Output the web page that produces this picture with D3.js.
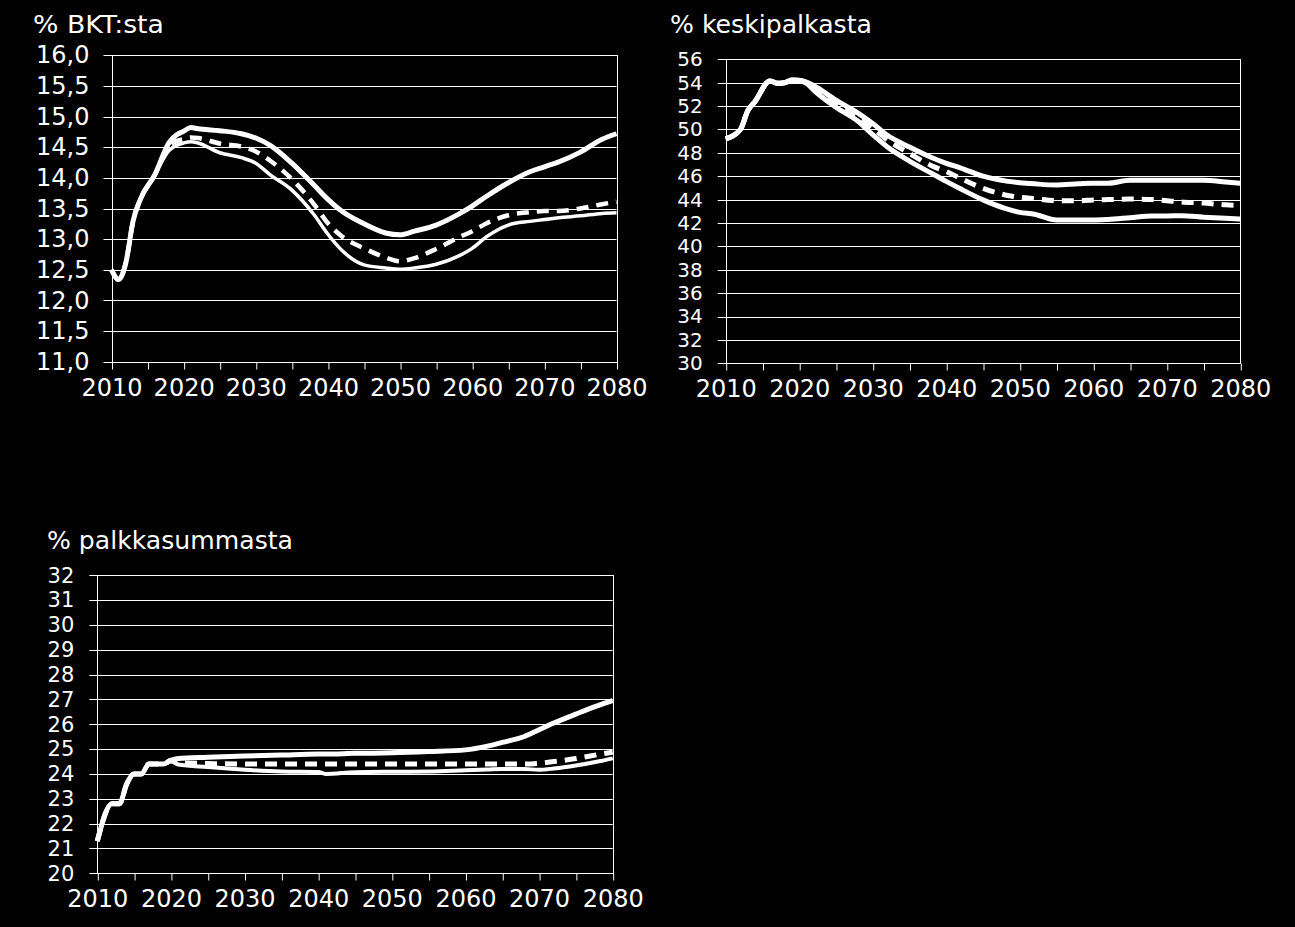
<!DOCTYPE html>
<html><head><meta charset="utf-8">
<script src="https://cdn.jsdelivr.net/npm/d3@7"></script>
<style>
body{margin:0;background:#000}
svg{display:block;background:#000}
text{font-family:"DejaVu Sans",sans-serif;fill:#fff}
</style></head>
<body><svg id="c" width="1295" height="927"></svg>
<script>
// ---------- DATA ----------
const xTicks = [2010,2015,2020,2025,2030,2035,2040,2045,2050,2055,2060,2065,2070,2075,2080];
const xLabels = [2010,2020,2030,2040,2050,2060,2070,2080];

// Panel 1: % BKT:sta
const bktTitle = "% BKT:sta";
const bktYTicks = [11,11.5,12,12.5,13,13.5,14,14.5,15,15.5,16];
const bktYears = [2010,2011,2012,2013,2014,2016,2018,2019,2020,2021,2022,2025,2028,2030,2032,2035,2038,2040,2042,2045,2048,2050,2052,2055,2058,2060,2062,2065,2068,2070,2072,2075,2078,2080];
const bktUpper = [12.50,12.34,12.62,13.30,13.65,14.05,14.58,14.70,14.76,14.82,14.80,14.77,14.72,14.65,14.53,14.24,13.89,13.65,13.45,13.25,13.10,13.07,13.13,13.23,13.40,13.54,13.70,13.92,14.10,14.18,14.26,14.42,14.63,14.72];
const bktBase  = [12.50,12.34,12.62,13.30,13.65,14.05,14.52,14.60,14.63,14.66,14.65,14.56,14.51,14.43,14.28,13.98,13.58,13.26,13.04,12.85,12.70,12.64,12.69,12.84,13.02,13.13,13.26,13.39,13.44,13.46,13.46,13.50,13.57,13.61];
const bktLower = [12.50,12.34,12.62,13.30,13.65,14.05,14.45,14.53,14.57,14.59,14.57,14.41,14.33,14.24,14.05,13.80,13.41,13.08,12.81,12.58,12.53,12.51,12.53,12.59,12.72,12.85,13.04,13.23,13.29,13.32,13.35,13.38,13.42,13.43];

// Panel 2: % keskipalkasta
const kpTitle = "% keskipalkasta";
const kpYTicks = [30,32,34,36,38,40,42,44,46,48,50,52,54,56];
const kpYears = [2010,2012,2013,2014,2016,2017,2018,2019,2020,2021,2022,2025,2028,2030,2032,2035,2038,2040,2042,2045,2048,2050,2052,2055,2058,2060,2062,2065,2068,2070,2072,2075,2078,2080];
const kpUpper = [49.2,50.0,51.6,52.4,54.15,53.95,54.0,54.25,54.2,54.05,53.75,52.5,51.4,50.5,49.5,48.5,47.6,47.1,46.7,46.0,45.6,45.45,45.35,45.25,45.35,45.4,45.4,45.65,45.65,45.65,45.65,45.65,45.5,45.4];
const kpBase  = [49.2,50.0,51.6,52.4,54.15,53.95,54.0,54.2,54.2,54.0,53.55,52.2,50.9,50.1,49.1,47.95,46.9,46.4,45.8,44.96,44.4,44.2,44.08,43.92,43.9,43.97,44.0,44.05,44.0,43.9,43.8,43.7,43.55,43.5];
const kpLower = [49.2,50.0,51.6,52.4,54.15,53.95,54.0,54.15,54.15,53.95,53.35,51.9,50.7,49.55,48.5,47.3,46.25,45.56,44.9,43.98,43.25,42.91,42.75,42.25,42.25,42.25,42.3,42.45,42.6,42.6,42.62,42.5,42.4,42.34];

// Panel 3: % palkkasummasta
const psTitle = "% palkkasummasta";
const psYTicks = [20,21,22,23,24,25,26,27,28,29,30,31,32];
const psYears = [2010,2012,2013,2014,2015,2016,2017,2019,2020,2021,2025,2030,2035,2040,2041,2045,2050,2055,2060,2063,2065,2068,2070,2072,2075,2078,2080];
const psUpper = [21.3,22.8,22.8,23.6,24.0,24.0,24.4,24.4,24.55,24.62,24.67,24.72,24.76,24.8,24.8,24.83,24.85,24.9,24.97,25.12,25.27,25.51,25.78,26.05,26.41,26.75,26.95];
const psBase  = [21.3,22.8,22.8,23.6,24.0,24.0,24.4,24.4,24.55,24.45,24.42,24.4,24.4,24.4,24.4,24.4,24.4,24.4,24.4,24.4,24.4,24.4,24.43,24.5,24.62,24.78,24.88];
const psLower = [21.3,22.8,22.8,23.6,24.0,24.0,24.4,24.4,24.5,24.38,24.28,24.17,24.1,24.08,24.0,24.07,24.09,24.1,24.15,24.18,24.2,24.2,24.17,24.22,24.34,24.5,24.63];

// ---------- DRAW ----------
const svg = d3.select("#c");
const fiLocale = d3.formatLocale({decimal: ",", thousands: " ", grouping: [3], currency: ["", " €"]});

function drawPanel(p) {
  const g = svg.append("g");
  const x = d3.scaleLinear().domain([2010, 2080]).range([p.L, p.R]);
  const y = d3.scaleLinear().domain([p.yTicks[0], p.yTicks[p.yTicks.length - 1]]).range([p.B, p.T]);

  // gridlines (extend left as tick marks)
  g.append("g").selectAll("line").data(p.yTicks).join("line")
    .attr("x1", p.L - 8).attr("x2", p.R)
    .attr("y1", d => Math.round(y(d)) + 0.5).attr("y2", d => Math.round(y(d)) + 0.5)
    .attr("stroke", "#fff").attr("stroke-width", 1);

  // plot border
  g.append("rect")
    .attr("x", Math.round(p.L) + 0.5).attr("y", Math.round(p.T) + 0.5)
    .attr("width", Math.round(p.R) - Math.round(p.L)).attr("height", Math.round(p.B) - Math.round(p.T))
    .attr("fill", "none").attr("stroke", "#fff").attr("stroke-width", 1);

  // y axis labels
  const ya = d3.axisLeft(y).tickValues(p.yTicks).tickSize(0).tickPadding(p.yPad).tickFormat(p.fmt);
  const yg = g.append("g").attr("transform", `translate(${p.L},0)`).call(ya);
  yg.select(".domain").remove();
  yg.selectAll("text").style("font-size", p.yFont + "px").attr("fill", "#fff").style("font-family", '"DejaVu Sans",sans-serif');

  // x axis
  const xa = d3.axisBottom(x).tickValues(xTicks).tickSize(7).tickPadding(9)
    .tickFormat(d => xLabels.includes(d) ? String(d) : "");
  const xg = g.append("g").attr("transform", `translate(0,${Math.round(p.B) + 0.5})`).call(xa);
  xg.select(".domain").remove();
  xg.selectAll("line").attr("stroke", "#fff").attr("transform", "translate(0.5,0)");
  xg.selectAll("text").style("font-size", "24px").attr("fill", "#fff").style("font-family", '"DejaVu Sans",sans-serif');

  // title
  g.append("text").attr("x", p.titleX).attr("y", p.titleY)
    .style("font-size", "25px")
    .attr("textLength", p.titleW).attr("lengthAdjust", "spacingAndGlyphs")
    .text(p.title);

  // series
  const line = d3.line().x(d => x(d[0])).y(d => y(d[1])).curve(d3.curveMonotoneX);
  p.series.forEach(s => {
    g.append("path")
      .datum(p.years.map((yr, i) => [yr, s.values[i]]))
      .attr("d", line)
      .attr("fill", "none").attr("stroke", "#fff")
      .attr("stroke-width", s.width)
      .attr("stroke-linejoin", "round")
      .attr("stroke-dasharray", s.dash || null);
  });
}

drawPanel({
  L: 111.5, R: 616.5, T: 55.3, B: 361.7, yPad: 22, yFont: 24,
  yTicks: bktYTicks, fmt: fiLocale.format(".1f"),
  title: bktTitle, titleX: 33, titleY: 33, titleW: 131,
  years: bktYears,
  series: [
    {values: bktLower, width: 3.5},
    {values: bktBase, width: 4.5, dash: "12,8"},
    {values: bktUpper, width: 5}
  ]
});

drawPanel({
  L: 725.7, R: 1240.3, T: 59.3, B: 363.3, yPad: 23, yFont: 20,
  yTicks: kpYTicks, fmt: d3.format("d"),
  title: kpTitle, titleX: 670, titleY: 33, titleW: 202,
  years: kpYears,
  series: [
    {values: kpLower, width: 5},
    {values: kpBase, width: 5, dash: "12,8"},
    {values: kpUpper, width: 5}
  ]
});

drawPanel({
  L: 97.3, R: 612.7, T: 575.3, B: 873.3, yPad: 23, yFont: 21,
  yTicks: psYTicks, fmt: d3.format("d"),
  title: psTitle, titleX: 47, titleY: 549, titleW: 246,
  years: psYears,
  series: [
    {values: psLower, width: 4},
    {values: psBase, width: 5, dash: "12,8"},
    {values: psUpper, width: 5}
  ]
});
</script></body></html>
